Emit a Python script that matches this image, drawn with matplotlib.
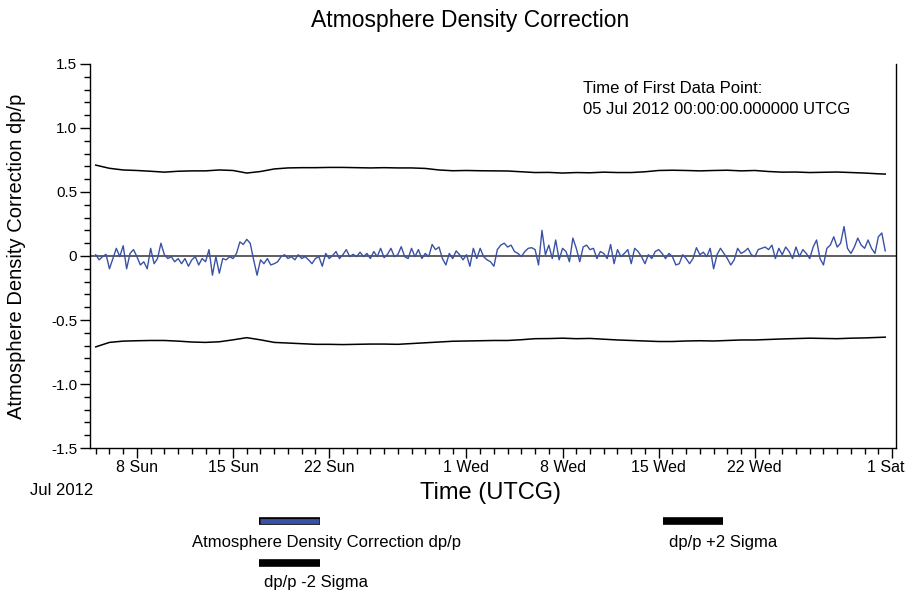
import numpy as np
import matplotlib
matplotlib.use("Agg")
from matplotlib import pyplot as plt
from matplotlib.lines import Line2D
import matplotlib.dates as mdates
import matplotlib.transforms as mtransforms
from datetime import datetime, timedelta

plt.rcParams['font.family'] = ['Liberation Sans', 'DejaVu Sans']

start = datetime(2012, 7, 5)

# dp/p correction, one value every 6 hours from 05 Jul 00:00
dpp = [
    0.01, -0.03, -0.005, 0.013, -0.10, -0.02, 0.06, -0.005, 0.08, -0.10,
    0.02, 0.05, -0.005, -0.07, -0.045, -0.10, 0.06, -0.06, -0.02, 0.10,
    0.01, -0.02, -0.005, -0.045, -0.02, -0.06, -0.02, -0.08, -0.03, -0.005,
    -0.07, -0.02, -0.045, 0.05, -0.15, -0.005, -0.135, -0.02, -0.03, -0.005,
    -0.02, 0.02, 0.11, 0.09, 0.13, 0.10, -0.03, -0.15, -0.03, -0.06,
    -0.02, -0.07, -0.06, -0.045, -0.005, 0.01, -0.02,
    # 14.25 .. 28.5
    -0.005, -0.03, 0.01, -0.02, -0.005, -0.03, -0.06, -0.02, -0.005, -0.08,
    0.02, -0.02, 0.003, 0.035, -0.02, 0.01, 0.05, -0.005, 0.013, -0.005,
    0.03, -0.005, 0.02, -0.02, 0.035, -0.005, 0.06, -0.013, 0.013, 0.06,
    -0.005, 0.01, 0.073, -0.005, -0.02, 0.06, -0.005, 0.05, -0.02, 0.02,
    -0.005, 0.09, 0.05, 0.07, -0.02, -0.07, 0.02, -0.02, 0.04, 0.01,
    -0.03, 0.01, -0.08, 0.06, -0.02, 0.06, -0.005, -0.03,
    # 28.75 .. 43.0
    -0.045, -0.08, 0.05, 0.085, 0.10, 0.07, 0.085, 0.035, 0.02, -0.005,
    0.035, 0.06, 0.065, 0.05, -0.07, 0.20, 0.01, 0.085, -0.02, 0.125,
    -0.03, 0.06, 0.035, -0.045, 0.14, 0.06, -0.045, 0.07, 0.085, 0.05,
    0.06, -0.02, 0.035, 0.02, -0.02, 0.09, -0.06, 0.05, -0.005, 0.02,
    0.05, -0.06, 0.06, 0.035, -0.005, -0.06, 0.01, -0.02, 0.035, 0.05,
    0.02, -0.02, 0.02, -0.005, -0.07, -0.06, 0.01, -0.02,
    # 43.25 .. 57.5
    -0.06, -0.02, 0.065, 0.01, 0.03, -0.005, 0.06, -0.10, 0.01, 0.06,
    0.02, -0.02, -0.07, -0.03, 0.06, 0.02, 0.035, 0.06, 0.01, -0.005,
    0.05, 0.06, 0.07, 0.05, 0.085, -0.02, 0.06, 0.01, 0.07, 0.035,
    -0.02, 0.07, -0.005, 0.05, 0.02, -0.02, 0.07, 0.125, -0.02, -0.07,
    0.06, 0.085, 0.15, 0.07, 0.10, 0.23, 0.06, 0.02, 0.07, 0.14,
    0.085, 0.06, 0.125, 0.06, 0.02, 0.15, 0.18, 0.04,
]

sigma_days = list(range(58)) + [57.5]
plus_sigma = [
    0.71, 0.685, 0.672, 0.668, 0.662, 0.655, 0.662, 0.665, 0.665, 0.672,
    0.668, 0.648, 0.66, 0.68, 0.688, 0.69, 0.69, 0.692, 0.692, 0.69,
    0.688, 0.69, 0.688, 0.688, 0.684, 0.672, 0.666, 0.668, 0.666, 0.665,
    0.664, 0.658, 0.652, 0.653, 0.648, 0.652, 0.65, 0.655, 0.652, 0.652,
    0.658, 0.668, 0.67, 0.668, 0.665, 0.668, 0.67, 0.665, 0.668, 0.66,
    0.655, 0.656, 0.652, 0.654, 0.656, 0.652, 0.648, 0.642, 0.64,
]
minus_sigma = [
    -0.71, -0.675, -0.665, -0.662, -0.66, -0.66, -0.665, -0.672, -0.675, -0.67,
    -0.655, -0.638, -0.655, -0.675, -0.68, -0.685, -0.69, -0.69, -0.692, -0.69,
    -0.688, -0.688, -0.69, -0.684, -0.678, -0.672, -0.666, -0.664, -0.662, -0.66,
    -0.66, -0.654, -0.646, -0.645, -0.642, -0.646, -0.644, -0.65, -0.656, -0.66,
    -0.664, -0.668, -0.668, -0.664, -0.662, -0.664, -0.66, -0.656, -0.656, -0.652,
    -0.648, -0.645, -0.642, -0.644, -0.646, -0.642, -0.64, -0.636, -0.634,
]

major_dates = [datetime(2012, 7, 8), datetime(2012, 7, 15), datetime(2012, 7, 22),
               datetime(2012, 8, 1), datetime(2012, 8, 8), datetime(2012, 8, 15),
               datetime(2012, 8, 22), datetime(2012, 9, 1)]
major_labels = [f"{d.day} {d.strftime('%a')}" for d in major_dates]

t_dpp = [start + timedelta(hours=6 * i) for i in range(len(dpp))]
t_sig = [start + timedelta(days=d) for d in sigma_days]

fig = plt.figure(figsize=(9.06, 5.93), dpi=100)
ax = fig.add_axes([0.0993, 0.2445, 0.8896, 0.6476])

blue = '#3a52a6'
ax.axhline(0, color='#333333', lw=1.1, zorder=1)
ax.plot(t_dpp, dpp, color=blue, lw=1.0, zorder=2)
ax.plot(t_sig, plus_sigma, color='black', lw=1.1, zorder=2)
ax.plot(t_sig, minus_sigma, color='black', lw=1.1, zorder=2)

ax.set_xlim(start - timedelta(days=0.42), start + timedelta(days=58.28))
ax.set_ylim(-1.5, 1.5)

ax.set_xticks(mdates.date2num(major_dates))
ax.set_xticklabels(major_labels)
ax.xaxis.set_minor_locator(mdates.DayLocator())
ax.set_yticks([-1.5, -1.0, -0.5, 0, 0.5, 1.0, 1.5])
ax.set_yticklabels(['-1.5', '-1.0', '-0.5', '0', '0.5', '1.0', '1.5'])
ax.set_yticks(np.arange(-1.5, 1.51, 0.1), minor=True)

ax.tick_params(which='major', direction='out', length=7.2, width=1, colors='black')
ax.tick_params(which='minor', direction='out', length=4.3, width=1)
ax.tick_params(axis='x', which='major', labelsize=11.5, pad=1.5)
ax.tick_params(axis='y', which='major', labelsize=11, pad=2)
ax.spines['top'].set_visible(False)
for s in ['left', 'bottom', 'right']:
    ax.spines[s].set_linewidth(1.0)

# keep "1 Sat" inside the figure, as in the reference
last = ax.get_xticklabels()[-1]
last.set_ha('right')
last.set_transform(last.get_transform() + mtransforms.ScaledTranslation(0.12, 0, fig.dpi_scale_trans))

ax.set_ylabel('Atmosphere Density Correction dp/p', fontsize=14.5)
ax.yaxis.set_label_coords(-0.079, 0.5)
fig.text(0.541, 0.168, 'Time (UTCG)', fontsize=17, ha='center', va='center')
fig.text(0.033, 0.173, 'Jul 2012', fontsize=12, ha='left', va='center')
fig.text(0.519, 0.966, 'Atmosphere Density Correction', fontsize=16.5, ha='center', va='center')

fig.text(0.643, 0.851, 'Time of First Data Point:', fontsize=12, ha='left', va='center')
fig.text(0.643, 0.816, '05 Jul 2012 00:00:00.000000 UTCG', fontsize=12, ha='left', va='center')

# legend
def key(x0, x1, y, color):
    fig.add_artist(Line2D([x0, x1], [y, y], color='black', lw=5.5, solid_capstyle='butt',
                          transform=fig.transFigure))
    if color != 'black':
        fig.add_artist(Line2D([x0 + 0.001, x1 - 0.001], [y, y], color=color, lw=3.5,
                              solid_capstyle='butt', transform=fig.transFigure))

key(259 / 906, 320 / 906, 1 - 521 / 593, blue)
fig.text(326 / 906, 1 - 542 / 593, 'Atmosphere Density Correction dp/p', fontsize=12,
         ha='center', va='center')
key(259 / 906, 320 / 906, 1 - 563 / 593, 'black')
fig.text(316 / 906, 1 - 583 / 593, 'dp/p -2 Sigma', fontsize=12, ha='center', va='center')
key(663 / 906, 723 / 906, 1 - 521 / 593, 'black')
fig.text(723 / 906, 1 - 542 / 593, 'dp/p +2 Sigma', fontsize=12, ha='center', va='center')

fig.savefig('out.png', dpi=100)
